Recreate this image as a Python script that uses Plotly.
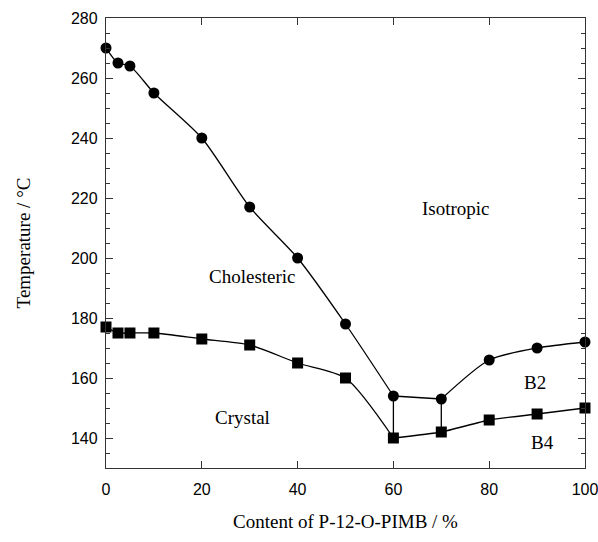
import plotly.graph_objects as go

content = [0, 2.5, 5, 10, 20, 30, 40, 50, 60, 70, 80, 90, 100]
iso_temp = [270, 265, 264, 255, 240, 217, 200, 178, 154, 153, 166, 170, 172]
cryst_temp = [177, 175, 175, 175, 173, 171, 165, 160, 140, 142, 146, 148, 150]

x_ticks = [0, 20, 40, 60, 80, 100]
y_ticks = [140, 160, 180, 200, 220, 240, 260, 280]

labels = ["Isotropic", "Cholesteric", "Crystal", "B2", "B4"]
label_x = [73, 30.5, 28.5, 89.6, 91.2]
label_y = [216.5, 194, 147, 158.5, 138.5]

fig = go.Figure()
line = dict(color="black", width=1.3)

# lines
fig.add_trace(go.Scatter(x=content[:9], y=iso_temp[:9], mode="lines", line=dict(shape="spline", smoothing=0.7, **line)))
fig.add_trace(go.Scatter(x=content[8:10], y=iso_temp[8:10], mode="lines", line=line))
fig.add_trace(go.Scatter(x=content[9:], y=iso_temp[9:], mode="lines", line=dict(shape="spline", smoothing=0.7, **line)))
fig.add_trace(go.Scatter(x=content[:9], y=cryst_temp[:9], mode="lines", line=dict(shape="spline", smoothing=0.7, **line)))
fig.add_trace(go.Scatter(x=content[8:], y=cryst_temp[8:], mode="lines", line=dict(shape="spline", smoothing=0.5, **line)))
for i in (8, 9):
    fig.add_trace(go.Scatter(x=[content[i], content[i]], y=[iso_temp[i], cryst_temp[i]], mode="lines", line=line))

# markers
fig.add_trace(go.Scatter(x=content, y=iso_temp, mode="markers", cliponaxis=False,
                         marker=dict(symbol="circle", size=11, color="black")))
fig.add_trace(go.Scatter(x=content, y=cryst_temp, mode="markers", cliponaxis=False,
                         marker=dict(symbol="square", size=11, color="black")))

for t, xx, yy in zip(labels, label_x, label_y):
    fig.add_annotation(x=xx, y=yy, text=t, showarrow=False,
                       font=dict(family="Liberation Serif", size=19, color="black"))

axis_common = dict(showline=True, linecolor="#333", linewidth=1.3, mirror="ticks",
                   ticks="inside", ticklen=7, tickcolor="#333", showgrid=False, zeroline=False,
                   automargin=False, ticklabeloverflow="allow",
                   tickfont=dict(family="Liberation Sans", size=16, color="black"))

fig.update_xaxes(range=[0, 100], tickvals=x_ticks, ticklabelstandoff=7,
                 title=dict(text="Content of P-12-O-PIMB / %", standoff=17,
                            font=dict(family="Liberation Serif", size=19, color="black")),
                 **axis_common)
fig.update_yaxes(range=[130, 280], tickvals=y_ticks, ticklabelstandoff=4,
                 minor=dict(dtick=5, ticks="inside", ticklen=4, tickcolor="#333"),
                 title=dict(text="Temperature / °C", standoff=35,
                            font=dict(family="Liberation Serif", size=19, color="black")),
                 **axis_common)

fig.update_layout(width=598, height=542, showlegend=False,
                  margin=dict(l=106, r=13, t=18, b=74),
                  plot_bgcolor="white", paper_bgcolor="white")

fig.write_html("out.html")
